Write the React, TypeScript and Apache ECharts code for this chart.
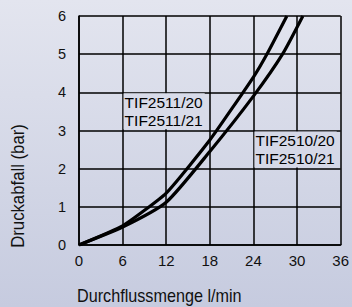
import React, { useEffect, useRef } from "react";
import * as echarts from "echarts";

const xTicks = [0, 6, 12, 18, 24, 30, 36];
const yTicks = [0, 1, 2, 3, 4, 5, 6];
// TIF2511/20, TIF2511/21 (steeper curve)
const flowA = [0, 6, 12, 18, 24, 26, 28.6];
const dropA = [0, 0.5, 1.36, 2.75, 4.4, 5.05, 6];
// TIF2510/20, TIF2510/21
const flowB = [0, 6, 12, 18, 24, 28, 30.8];
const dropB = [0, 0.47, 1.12, 2.45, 3.9, 5.0, 6];
const labelA = ["TIF2511/20", "TIF2511/21"];
const labelB = ["TIF2510/20", "TIF2510/21"];
const xName = "Durchflussmenge l/min";
const yName = "Druckabfall (bar)";

const FONT = "'Liberation Sans', Arial, sans-serif";

export default function App() {
  const ref = useRef<HTMLDivElement>(null);
  useEffect(() => {
    if (!ref.current) return;
    const chart = echarts.init(ref.current, null, { renderer: "svg" });
    const pairs = (xs: number[], ys: number[]) => xs.map((x, i) => [x, ys[i]]);
    chart.setOption({
      animation: false,
      backgroundColor: "transparent",
      grid: { left: 79, top: 16, right: 10, bottom: 62, containLabel: false },
      xAxis: {
        type: "value",
        min: xTicks[0],
        max: xTicks[xTicks.length - 1],
        interval: 6,
        axisLine: { show: true, lineStyle: { color: "#000", width: 1.5 } },
        axisTick: { show: false },
        axisLabel: { color: "#111", fontSize: 15, fontFamily: FONT, margin: 8 },
        splitLine: { show: true, lineStyle: { color: "#000", width: 1.5 } },
      },
      yAxis: {
        type: "value",
        min: yTicks[0],
        max: yTicks[yTicks.length - 1],
        interval: 1,
        axisLine: { show: true, lineStyle: { color: "#000", width: 1.5 } },
        axisTick: { show: false },
        axisLabel: { color: "#111", fontSize: 14.5, fontFamily: FONT, margin: 13 },
        splitLine: { show: true, lineStyle: { color: "#000", width: 1.5 } },
      },
      series: [
        {
          name: labelA.join(" "),
          type: "line",
          data: pairs(flowA, dropA),
          symbol: "none",
          smooth: 0.15,
          lineStyle: { color: "#000", width: 3.2 },
        },
        {
          name: labelB.join(" "),
          type: "line",
          data: pairs(flowB, dropB),
          symbol: "none",
          smooth: 0.2,
          lineStyle: { color: "#000", width: 3.2 },
        },
      ],
    });
    const pA = chart.convertToPixel({ gridIndex: 0 }, [6, 4]) as number[];
    const pB = chart.convertToPixel({ gridIndex: 0 }, [24, 3]) as number[];
    chart.setOption({
      graphic: [
        {
          type: "text",
          x: pA[0] + 1,
          y: pA[1] + 1,
          z: 10,
          style: {
            text: labelA.join("\n"),
            font: `15.5px ${FONT}`,
            fill: "#000",
            lineHeight: 18,
            backgroundColor: "#d8dbe9",
            padding: [0, 2, 0, 1],
          },
        },
        {
          type: "text",
          x: pB[0] + 1,
          y: pB[1] + 1,
          z: 10,
          style: {
            text: labelB.join("\n"),
            font: `15.5px ${FONT}`,
            fill: "#000",
            lineHeight: 18,
            backgroundColor: "#d5d8e7",
            padding: [0, 2, 0, 1],
          },
        },
        {
          type: "text",
          x: 77,
          y: 296,
          scaleX: 0.9,
          style: {
            text: xName,
            font: `18px ${FONT}`,
            fill: "#111",
            textVerticalAlign: "middle",
          },
        },
        {
          type: "text",
          x: 18,
          y: 186,
          rotation: Math.PI / 2,
          scaleX: 0.93,
          style: {
            text: yName,
            font: `18px ${FONT}`,
            fill: "#111",
            textAlign: "center",
            textVerticalAlign: "middle",
          },
        },
      ],
    });
    return () => chart.dispose();
  }, []);
  return (
    <div
      style={{
        position: "fixed",
        left: 0,
        top: 0,
        width: 352,
        height: 307,
        background: "linear-gradient(to bottom, #e3e5ef, #c6cbdf)",
      }}
    >
      <div ref={ref} style={{ width: 352, height: 307 }} />
    </div>
  );
}
